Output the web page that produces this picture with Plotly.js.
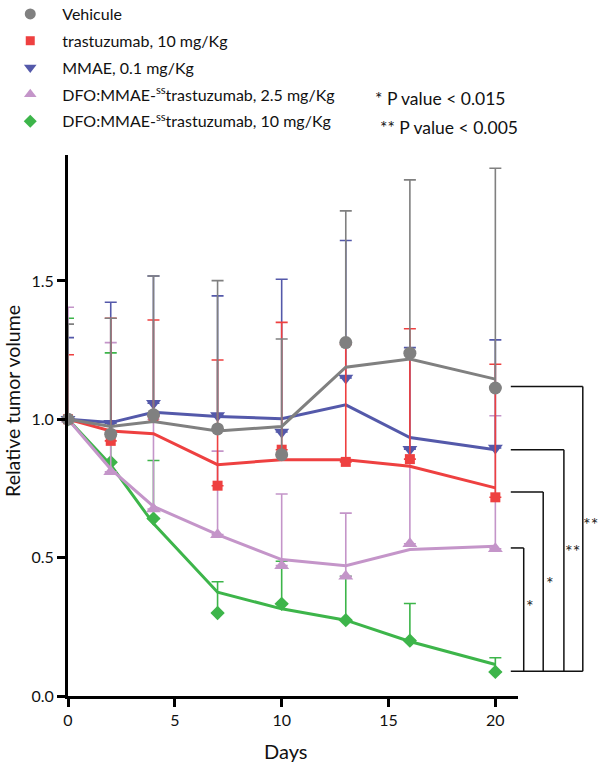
<!DOCTYPE html>
<html>
<head>
<meta charset="utf-8">
<script src="https://cdn.plot.ly/plotly-3.0.1.min.js"></script>
<style>html,body{margin:0;padding:0;background:#fff;}#chart{width:600px;height:764px;}</style>
</head>
<body>
<div id="chart"></div>
<script>
// ---- data ----
const days = [0, 2, 4, 7, 10, 13, 16, 20];

const seriesNames = [
  'Vehicule',
  'trastuzumab, 10 mg/Kg',
  'MMAE, 0.1 mg/Kg',
  'DFO:MMAE-<sup>ss</sup>trastuzumab, 2.5 mg/Kg',
  'DFO:MMAE-<sup>ss</sup>trastuzumab, 10 mg/Kg'
];

// connecting curves
const vehiculeLine = [1.0, 0.974, 0.992, 0.958, 0.974, 1.188, 1.218, 1.145];
const trastLine    = [1.0, 0.958, 0.948, 0.836, 0.854, 0.854, 0.830, 0.752];
const mmaeLine     = [1.0, 0.988, 1.025, 1.010, 1.002, 1.052, 0.934, 0.890];
const adc25Line    = [1.0, 0.820, 0.685, 0.583, 0.493, 0.471, 0.529, 0.541];
const adc10Line    = [1.0, 0.835, 0.623, 0.375, 0.315, 0.274, 0.197, 0.114];

// plotted points
const vehiculePts = [1.0, 0.946, 1.016, 0.965, 0.872, 1.277, 1.239, 1.113];
const trastPts    = [1.0, 0.922, 1.010, 0.760, 0.890, 0.846, 0.856, 0.718];
const mmaePts     = [1.0, 0.986, 1.058, 1.014, 0.954, 1.149, 0.892, 0.896];
const adc25Pts    = [1.0, 0.810, 0.676, 0.583, 0.471, 0.433, 0.550, 0.532];
const adc10Pts    = [1.0, 0.845, 0.641, 0.300, 0.333, 0.274, 0.200, 0.087];

// top of the (upper) error bars
const vehiculeUpper = [1.344, 1.365, 1.518, 1.501, 1.290, 1.753, 1.865, 1.907];
const trastUpper    = [1.233, 1.365, 1.359, 1.214, 1.350, 1.270, 1.327, 1.199];
const mmaeUpper     = [1.295, 1.423, 1.518, 1.446, 1.506, 1.646, 1.259, 1.287];
const adc25Upper    = [1.405, 1.277, 1.000, 0.885, 0.730, 0.661, 0.895, 1.013];
const adc10Upper    = [1.365, 1.240, 0.851, 0.413, 0.487, 0.433, 0.334, 0.138];

// significance brackets: upper group level, common lower level, label
const bracketLevels = [0.535, 0.737, 0.890, 1.118];
const bracketBottom = 0.0895;
const bracketLabels = ['*', '*', '**', '**'];
const pValueNotes = ['* P value &lt; 0.015', '** P value &lt; 0.005'];

const xTicks = [0, 5, 10, 15, 20];
const yTicks = [0, 0.5, 1.0, 1.5];

// ---- styles ----
const FONT = 'Lato, Open Sans, sans-serif';
const colors = ['#808080', '#ee4040', '#5459aa', '#c495c9', '#3db54a'];
const symbols = ['circle', 'square', 'triangle-down', 'triangle-up', 'diamond'];
const sizes = [13, 10, 13, 13, 11];
const legendSizes = [11, 9, 11, 11, 10];

const lines = [vehiculeLine, trastLine, mmaeLine, adc25Line, adc10Line];
const pts = [vehiculePts, trastPts, mmaePts, adc25Pts, adc10Pts];
const uppers = [vehiculeUpper, trastUpper, mmaeUpper, adc25Upper, adc10Upper];

const traces = [];
// legend entries (marker only)
for (let i = 0; i < 5; i++) {
  traces.push({
    x: [null], y: [null], type: 'scatter', mode: 'markers',
    name: seriesNames[i], legendgroup: 'g' + i, showlegend: true,
    marker: {color: colors[i], symbol: symbols[i], size: legendSizes[i]},
    hoverinfo: 'skip'
  });
}
// draw order: bottom -> top
const order = [4, 3, 2, 1, 0];
order.forEach(i => {
  traces.push({
    x: days, y: lines[i], type: 'scatter', mode: 'lines',
    line: {color: colors[i], width: 3}, showlegend: false, cliponaxis: false,
    legendgroup: 'g' + i, hoverinfo: 'skip'
  });
  traces.push({
    x: days, y: pts[i], type: 'scatter', mode: 'markers',
    marker: {color: colors[i], symbol: symbols[i], size: sizes[i]},
    error_y: {type: 'data', symmetric: false,
      array: uppers[i].map((u, k) => u - pts[i][k]),
      arrayminus: days.map(() => 0),
      color: colors[i], thickness: 1.6, width: 6},
    showlegend: false, cliponaxis: false, legendgroup: 'g' + i
  });
});

// brackets (paper x beyond the plot, data y)
const bracketX = [1.0127, 1.056, 1.102, 1.144];
const bracketStart = 0.984;
const shapes = [];
bracketLevels.forEach((lv, k) => {
  shapes.push({type: 'line', xref: 'paper', yref: 'y', x0: bracketStart, x1: bracketX[k], y0: lv, y1: lv,
    line: {color: '#111', width: 1.5}});
  shapes.push({type: 'line', xref: 'paper', yref: 'y', x0: bracketX[k], x1: bracketX[k], y0: lv, y1: bracketBottom,
    line: {color: '#111', width: 1.5}});
});
shapes.push({type: 'line', xref: 'paper', yref: 'y', x0: bracketStart, x1: bracketX[3], y0: bracketBottom, y1: bracketBottom,
  line: {color: '#111', width: 1.5}});

const annotations = [];
const starX = [1.026, 1.07, 1.122, 1.162];
const starY = [0.324, 0.408, 0.524, 0.620];
bracketLabels.forEach((t, k) => {
  annotations.push({xref: 'paper', yref: 'y', x: starX[k], y: starY[k], text: t, showarrow: false,
    font: {family: FONT, size: 18, color: '#222'}, xanchor: 'center', yanchor: 'middle'});
});
annotations.push({xref: 'paper', yref: 'paper', x: 0.677, y: 1.105, text: pValueNotes[0], showarrow: false,
  xanchor: 'left', yanchor: 'middle', font: {family: FONT, size: 17.5, color: '#111'}});
annotations.push({xref: 'paper', yref: 'paper', x: 0.688, y: 1.050, text: pValueNotes[1], showarrow: false,
  xanchor: 'left', yanchor: 'middle', font: {family: FONT, size: 17.5, color: '#111'}});
annotations.push({xref: 'paper', yref: 'paper', x: -0.122, y: 0.5457, text: 'Relative tumor volume', showarrow: false,
  textangle: -90, xanchor: 'center', yanchor: 'middle', font: {family: FONT, size: 19.5, color: '#111'}});
annotations.push({xref: 'paper', yref: 'paper', x: 0.484, y: -0.1025, text: 'Days', showarrow: false,
  xanchor: 'center', yanchor: 'middle', font: {family: FONT, size: 20, color: '#111'}});

const layout = {
  width: 600, height: 764,
  margin: {l: 68, r: 82, t: 155, b: 68, pad: 0, autoexpand: false},
  paper_bgcolor: '#fff', plot_bgcolor: '#fff',
  font: {family: FONT, color: '#111'},
  showlegend: true,
  legend: {x: -0.155, y: 1.292, xanchor: 'left', yanchor: 'top', bgcolor: 'rgba(0,0,0,0)',
    font: {family: FONT, size: 16, color: '#111'}, itemwidth: 54, tracegroupgap: 3,
    traceorder: 'grouped', itemclick: false},
  xaxis: {range: [0, 21.06], tickvals: xTicks, ticktext: xTicks.map(String), showgrid: false, zeroline: false,
    showline: true, linecolor: '#000', linewidth: 3, ticks: 'outside', ticklen: 8, tickwidth: 3, tickcolor: '#000',
    tickfont: {family: FONT, size: 16, color: '#111'}, fixedrange: true, automargin: false},
  yaxis: {range: [0, 1.955], tickvals: yTicks, ticktext: yTicks.map(v => v.toFixed(1)), showgrid: false, zeroline: false,
    showline: true, linecolor: '#000', linewidth: 3, ticks: 'outside', ticklen: 8, tickwidth: 3, tickcolor: '#000',
    tickfont: {family: FONT, size: 16, color: '#111'}, fixedrange: true, automargin: false},
  shapes: shapes,
  annotations: annotations
};

Plotly.newPlot('chart', traces, layout, {displayModeBar: false, staticPlot: true});
</script>
</body>
</html>
